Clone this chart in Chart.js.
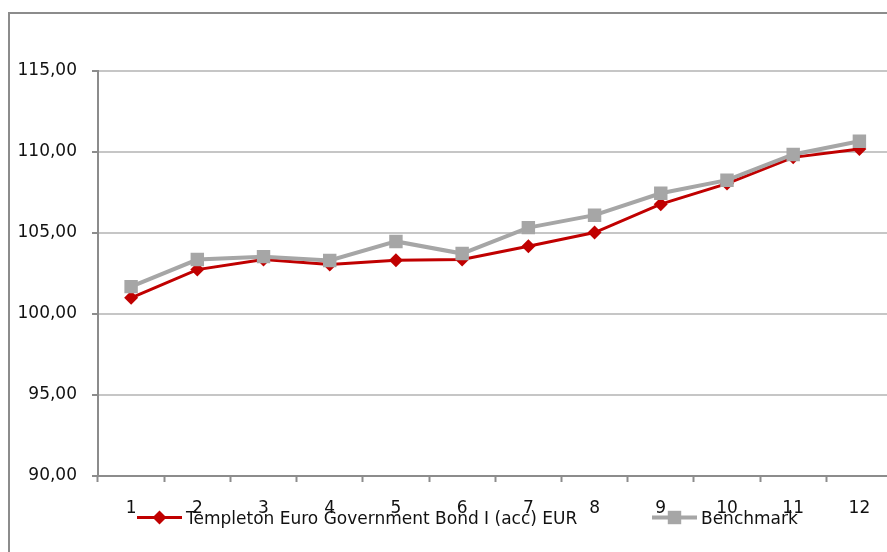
<!DOCTYPE html>
<html><head><meta charset="utf-8">
<script src="https://cdn.jsdelivr.net/npm/chart.js@4/dist/chart.umd.min.js"></script>
<style>html,body{margin:0;padding:0;background:#fff;overflow:hidden;width:887px;height:552px}canvas{display:block}</style>
</head><body>
<canvas id="c" width="902" height="552"></canvas>
<script>
const categories = ['1','2','3','4','5','6','7','8','9','10','11','12'];
const fundValues = [101.00, 102.74, 103.36, 103.05, 103.32, 103.36, 104.18, 105.03, 106.78, 108.05, 109.67, 110.18];
const benchmarkValues = [101.69, 103.36, 103.54, 103.30, 104.48, 103.73, 105.33, 106.10, 107.45, 108.26, 109.85, 110.66];
const seriesNames = ['Templeton Euro Government Bond I (acc) EUR', 'Benchmark'];
const yMin = 90, yMax = 115, yStep = 5;

const FONT = '"DejaVu Sans", sans-serif';
const RED = '#c00000', GRAY = '#a6a6a6', AXIS = '#8c8c8c', GRID = '#c6c6c6';

const borderPlugin = {
  id: 'outerBorder',
  beforeDraw(chart) {
    const ctx = chart.ctx;
    ctx.save();
    ctx.strokeStyle = AXIS;
    ctx.lineWidth = 2;
    ctx.strokeRect(9, 13, chart.width + 20, chart.height + 20);
    ctx.restore();
  }
};

const legendPlugin = {
  id: 'overlayLegend',
  afterDraw(chart) {
    const ctx = chart.ctx;
    const starts = [137, 652];
    const y = 517.5;
    ctx.save();
    chart.data.datasets.forEach((ds, i) => {
      const x0 = starts[i], x1 = x0 + 45, cx = (x0 + x1) / 2;
      ctx.strokeStyle = ds.borderColor;
      ctx.lineWidth = ds.borderWidth;
      ctx.beginPath(); ctx.moveTo(x0, y); ctx.lineTo(x1, y); ctx.stroke();
      ctx.fillStyle = ds.pointBackgroundColor;
      ctx.beginPath();
      if (ds.pointStyle === 'rectRot') {
        const r = ds.pointRadius;
        ctx.moveTo(cx, y - r); ctx.lineTo(cx + r, y); ctx.lineTo(cx, y + r); ctx.lineTo(cx - r, y);
      } else {
        const s = ds.pointRadius * Math.SQRT1_2;
        ctx.rect(cx - s, y - s, 2 * s, 2 * s);
      }
      ctx.closePath(); ctx.fill();
      ctx.fillStyle = '#111';
      ctx.font = '17px ' + FONT;
      ctx.textBaseline = 'middle';
      ctx.textAlign = 'left';
      ctx.fillText(ds.label, x1 + 4, y + 2);
    });
    ctx.restore();
  }
};

new Chart(document.getElementById('c'), {
  type: 'line',
  data: {
    labels: categories,
    datasets: [
      {label: seriesNames[0], data: fundValues, borderColor: RED, backgroundColor: RED,
       pointBackgroundColor: RED, pointBorderColor: RED, pointBorderWidth: 0,
       borderWidth: 3, pointStyle: 'rectRot', pointRadius: 7, tension: 0, order: 1},
      {label: seriesNames[1], data: benchmarkValues, borderColor: GRAY, backgroundColor: GRAY,
       pointBackgroundColor: GRAY, pointBorderColor: GRAY, pointBorderWidth: 0,
       borderWidth: 4, pointStyle: 'rect', pointRadius: 9.5, tension: 0, order: 0}
    ]
  },
  options: {
    responsive: false, animation: false, devicePixelRatio: 1,
    layout: {padding: {top: 71, left: 0, right: 0, bottom: 0}},
    plugins: {legend: {display: false}, tooltip: {enabled: false}},
    scales: {
      x: {
        offset: true,
        grid: {offset: true, drawOnChartArea: false, drawTicks: true, tickLength: 6, tickColor: AXIS, tickWidth: 2},
        border: {color: AXIS, width: 2},
        ticks: {color: '#111', font: {family: FONT, size: 17}, padding: 16, maxRotation: 0, autoSkip: false},
        afterFit(s) { s.height = 76; }
      },
      y: {
        min: yMin, max: yMax,
        grid: {color: GRID, lineWidth: 2, tickLength: 6, tickColor: AXIS, tickWidth: 2},
        border: {color: AXIS, width: 2},
        ticks: {stepSize: yStep, color: '#111', font: {family: FONT, size: 17}, padding: 15,
          callback: v => v.toFixed(2).replace('.', ',')},
        afterFit(s) { s.width = 98; }
      }
    }
  },
  plugins: [borderPlugin, legendPlugin]
});
</script>
</body></html>
